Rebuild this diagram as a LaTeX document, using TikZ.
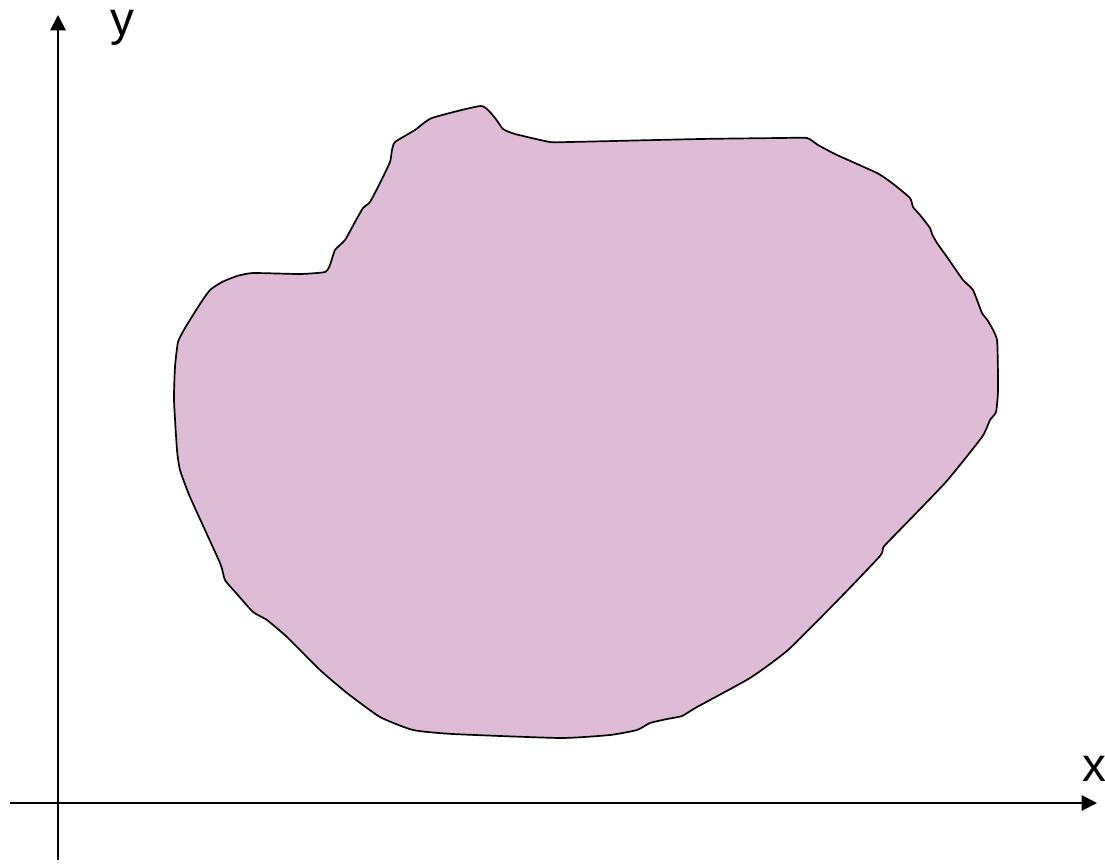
\documentclass[tikz,border=0pt]{standalone}
\usepackage{fontspec}
\setmainfont{Liberation Sans}
\usetikzlibrary{arrows.meta, positioning}
\usepackage{xcolor}
\definecolor{colblob}{RGB}{223,188,214}

\begin{document}
\begin{tikzpicture}[
  x=0.025cm, y=-0.025cm,
  axis/.style={-{Triangle[length=11pt,width=11pt]}, line width=1.4pt, black},
  region/.style={draw=black, line width=1.2pt, fill=colblob, line join=round},
  axlabel/.style={font=\fontsize{34}{40}\selectfont, inner sep=0pt}
]
\useasboundingbox (0,0) rectangle (1105,864);

% Axes
\coordinate (xstart) at (10,803);
\coordinate (xend)   at (1097,803);
\coordinate (ystart) at (58,860);
\coordinate (yend)   at (58,15);
\draw[axis] (xstart) -- (xend);
\draw[axis] (ystart) -- (yend);
\node[axlabel] (ylabel) at (122,28) {y};
\node[axlabel] (xlabel) at (1094,769) {x};

% Region
\draw[region] plot[smooth cycle, tension=0.3] coordinates {
  (481,106) (495,118) (503,129) (515,134) (550,142) (570,142)
  (700,139) (780,138) (807,138) (818,145) (837,155) (877,173) (892,183) (910,198) (913,207)
  (920,215) (930,228) (932,234) (937,243) (947,257) (963,280)
  (973,290) (982,313) (988,321) (997,340) (998,390) (996,412)
  (990,420) (982,437) (945,483) (888,542) (883,548) (880,556)
  (840,598) (788,650) (750,678) (697,707) (682,716) (667,719)
  (650,723) (637,730) (610,735) (560,738) (453,734) (413,730)
  (380,717) (347,693) (320,670) (287,637) (267,620) (253,612)
  (237,594) (225,580) (220,563) (190,497) (180,470) (177,450)
  (174,400) (175,367) (178,342) (185,328) (200,304)
  (210,290) (222,282) (237,276) (253,273) (300,274) (325,272)
  (330,265) (335,250) (345,240) (355,222) (363,208) (370,202)
  (380,183) (390,162) (392,150) (395,142) (415,130) (432,118)
};
\end{tikzpicture}
\end{document}
